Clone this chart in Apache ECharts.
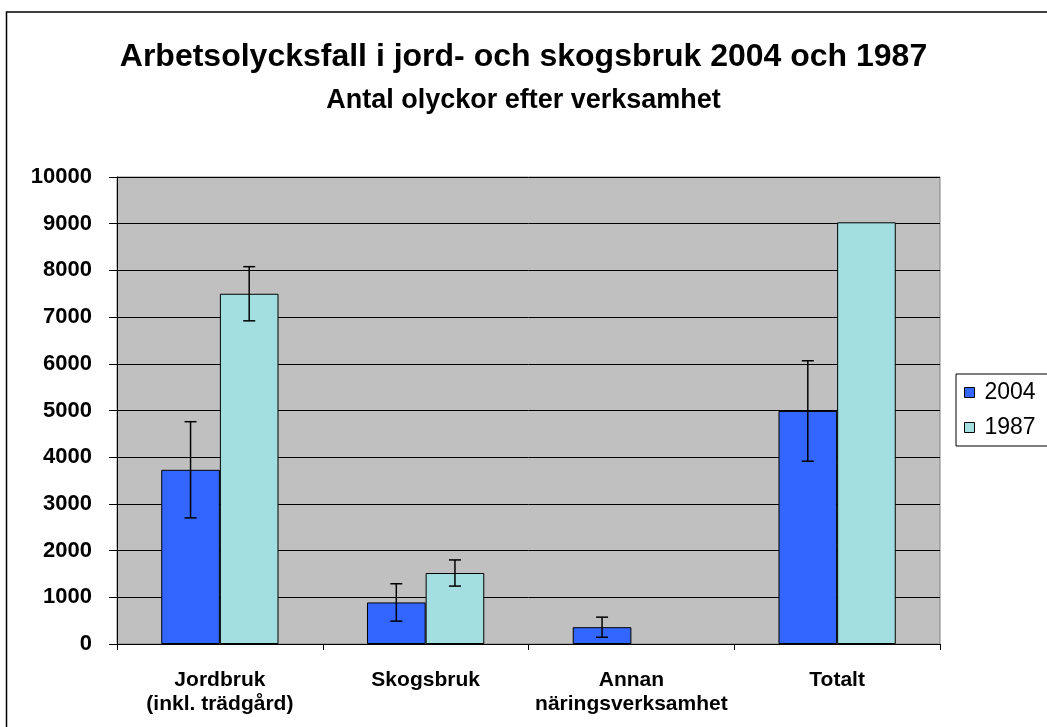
<!DOCTYPE html>
<html>
<head>
<meta charset="utf-8">
<script src="https://cdn.jsdelivr.net/npm/echarts@6/dist/echarts.min.js"></script>
<style>
html,body{margin:0;padding:0;background:#fff;}
#c{width:1047px;height:727px;}
</style>
</head>
<body>
<div id="c"></div>
<script>
const categories = ['Jordbruk\n(inkl. trädgård)', 'Skogsbruk', 'Annan\nnäringsverksamhet', 'Totalt'];
const values2004 = [3730, 890, 360, 4990];
const values1987 = [7500, 1520, null, 9030];
const err2004 = [1030, 400, 215, 1075];
const err1987 = [580, 280, null, null];
const yTicks = [0, 1000, 2000, 3000, 4000, 5000, 6000, 7000, 8000, 9000, 10000];

const GAP = 0.43;
function errData(vals, errs) {
  const out = [];
  vals.forEach((v, i) => {
    if (v != null && errs[i] != null) out.push([i, v - errs[i], v + errs[i]]);
  });
  return out;
}
function errSeries(vals, errs, side) {
  return {
    type: 'custom',
    name: 'err' + side,
    z: 10,
    data: errData(vals, errs),
    encode: { x: 0, y: [1, 2] },
    renderItem: function (params, api) {
      const band = api.size([1, 0])[0];
      const bw = band * (1 - GAP) / 2;
      const off = side * bw / 2;
      const lo = api.coord([api.value(0), api.value(1)]);
      const hi = api.coord([api.value(0), api.value(2)]);
      const x = lo[0] + off;
      const cap = 6;
      const st = { stroke: '#000', lineWidth: 1.5 };
      return {
        type: 'group',
        children: [
          { type: 'line', shape: { x1: x, y1: lo[1], x2: x, y2: hi[1] }, style: st },
          { type: 'line', shape: { x1: x - cap, y1: lo[1], x2: x + cap, y2: lo[1] }, style: st },
          { type: 'line', shape: { x1: x - cap, y1: hi[1], x2: x + cap, y2: hi[1] }, style: st }
        ]
      };
    }
  };
}

const chart = echarts.init(document.getElementById('c'));
chart.setOption({
  animation: false,
  backgroundColor: '#fff',
  textStyle: { fontFamily: 'Liberation Sans, Arial, sans-serif' },
  graphic: [{
    type: 'rect', shape: { x: 6.5, y: 12, width: 1100, height: 800 },
    style: { fill: 'none', stroke: '#000', lineWidth: 1.5 }, silent: true, z: -1
  }],
  title: [{
    text: 'Arbetsolycksfall i jord- och skogsbruk 2004 och 1987',
    left: 'center', top: 36,
    textStyle: { fontSize: 32, fontWeight: 'bold', color: '#000', fontFamily: 'Liberation Sans, Arial' }
  }, {
    text: 'Antal olyckor efter verksamhet',
    left: 'center', top: 82,
    textStyle: { fontSize: 27, fontWeight: 'bold', color: '#000', fontFamily: 'Liberation Sans, Arial' }
  }],
  legend: {
    data: ['2004', '1987'],
    orient: 'vertical',
    left: 956, top: 374,
    borderColor: '#000', borderWidth: 1,
    padding: [7, 20, 7, 8],
    itemGap: 12,
    itemWidth: 10, itemHeight: 10,
    icon: 'rect',
    itemStyle: { borderColor: '#000', borderWidth: 1 },
    textStyle: { fontSize: 23, color: '#000', fontFamily: 'Liberation Sans, Arial', padding: [0, 0, 0, 5] }
  },
  grid: {
    left: 117, right: 107, top: 177, bottom: 83,
    show: true, backgroundColor: '#c0c0c0', borderColor: '#808080', borderWidth: 1
  },
  xAxis: {
    type: 'category',
    data: categories,
    axisLine: { show: true, lineStyle: { color: '#000', width: 1 } },
    axisTick: { show: true, interval: 0, alignWithLabel: false, length: 6, lineStyle: { color: '#000' } },
    axisLabel: {
      interval: 0, hideOverlap: false,
      margin: 24, fontSize: 21, fontWeight: 'bold', color: '#000', lineHeight: 24,
      fontFamily: 'Liberation Sans, Arial'
    },
    splitLine: { show: false }
  },
  yAxis: {
    type: 'value',
    min: 0, max: 10000, interval: 1000,
    axisLine: { show: true, lineStyle: { color: '#000', width: 1 } },
    axisTick: { show: true, length: 8, lineStyle: { color: '#000' } },
    axisLabel: {
      margin: 25, fontSize: 22, fontWeight: 'bold', color: '#000',
      fontFamily: 'Liberation Sans, Arial',
      formatter: v => yTicks.includes(v) ? String(v) : ''
    },
    splitLine: { show: true, lineStyle: { color: '#000', width: 1 } }
  },
  series: [
    {
      name: '2004', type: 'bar', data: values2004,
      barGap: '0%', barCategoryGap: (GAP * 100) + '%',
      itemStyle: { color: '#3366ff', borderColor: '#000', borderWidth: 1 }
    },
    {
      name: '1987', type: 'bar', data: values1987,
      barGap: '0%', barCategoryGap: (GAP * 100) + '%',
      itemStyle: { color: '#a3dfe0', borderColor: '#000', borderWidth: 1 }
    },
    errSeries(values2004, err2004, -1),
    errSeries(values1987, err1987, 1)
  ]
});
</script>
</body>
</html>
